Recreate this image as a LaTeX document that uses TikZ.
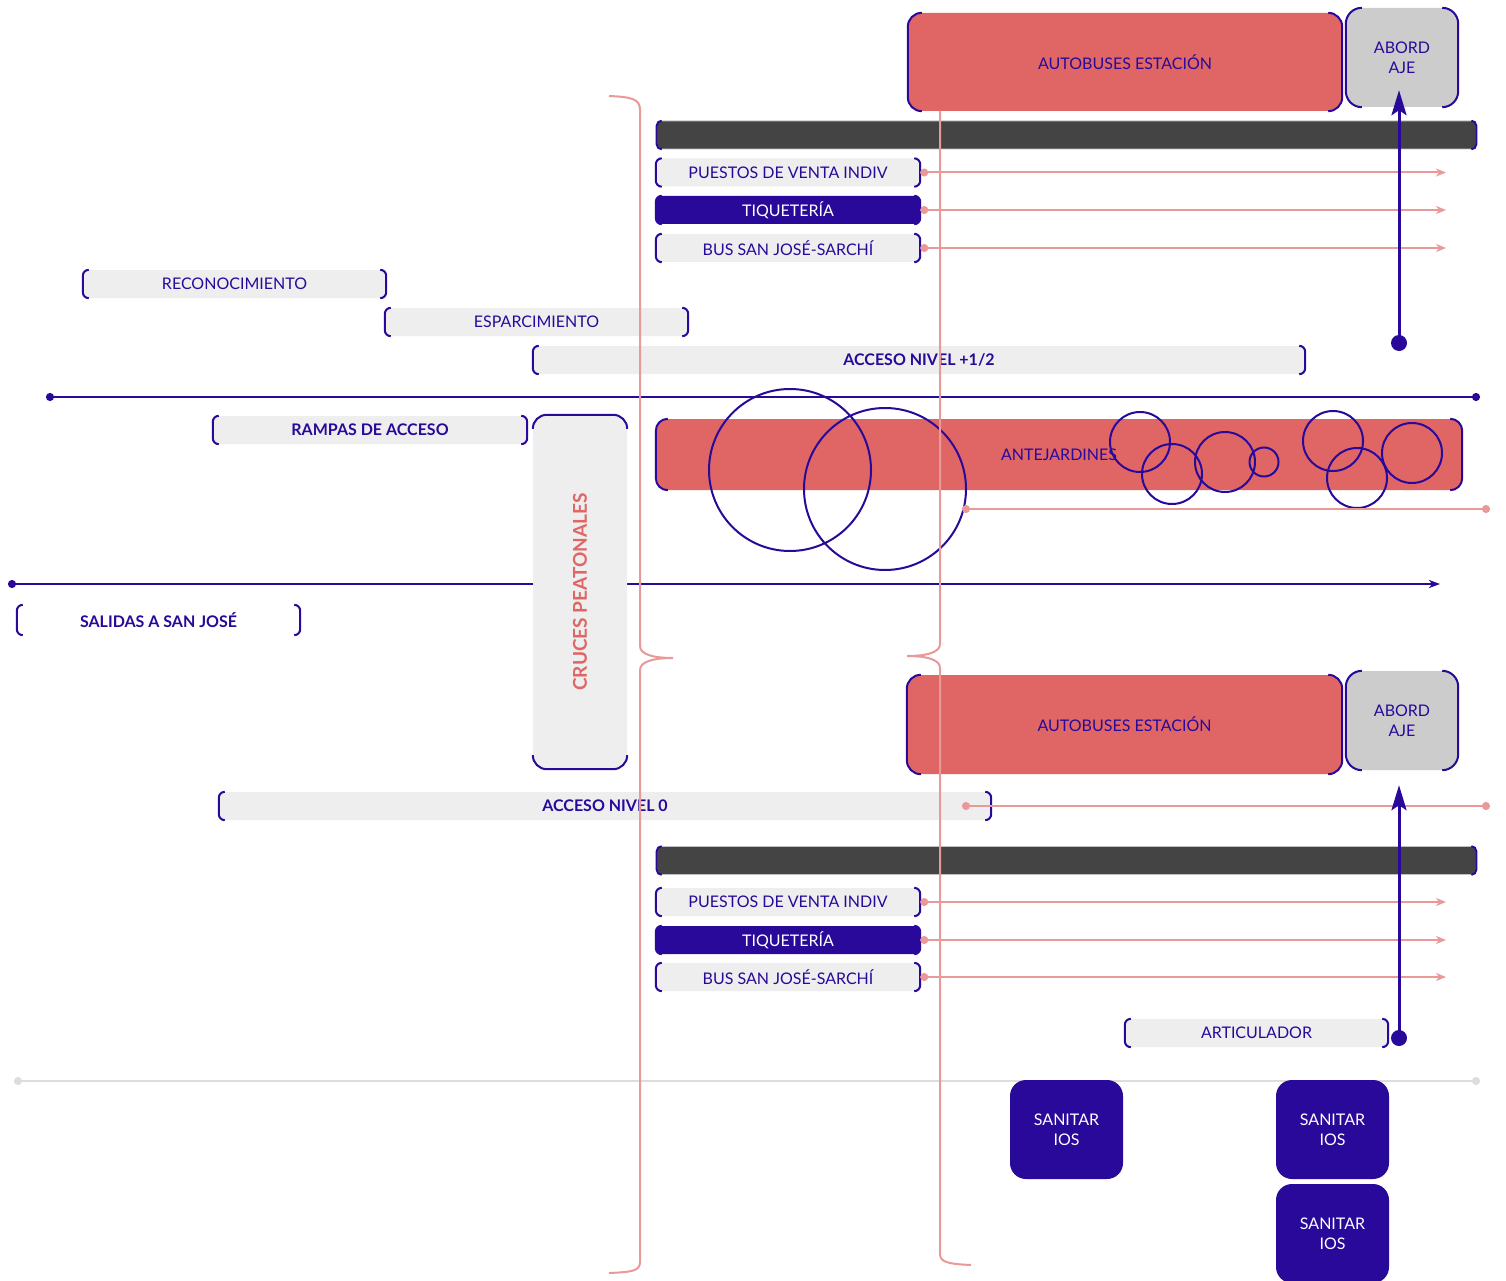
\documentclass[tikz,border=0pt]{standalone}
\usepackage{fontspec}
\usepackage{graphicx}
\setmainfont{Lato}
\usetikzlibrary{arrows.meta}
\definecolor{ink}{HTML}{28099A}
\definecolor{rose}{HTML}{E06666}
\definecolor{pale}{HTML}{EEEEEE}
\definecolor{mid}{HTML}{CCCCCC}
\definecolor{dark}{HTML}{444444}
\definecolor{pinkl}{HTML}{EA9999}
\definecolor{lgline}{HTML}{DDDDDD}
\newcommand\lab{\fontsize{16}{20}\selectfont}
\newcommand\cru{\fontsize{19}{24}\selectfont\bfseries}
\newcommand\brk[2][6]{%
  \draw[bl,rounded corners=#1pt] ([xshift=#1pt]#2.north west)--(#2.north west)--(#2.south west)--([xshift=#1pt]#2.south west);
  \draw[bl,rounded corners=#1pt] ([xshift=-#1pt]#2.north east)--(#2.north east)--(#2.south east)--([xshift=-#1pt]#2.south east);}
\newcommand\brkv[2][14]{%
  \draw[bl,rounded corners=#1pt] ([yshift=-#1pt]#2.north west)--(#2.north west)--(#2.north east)--([yshift=-#1pt]#2.north east);
  \draw[bl,rounded corners=#1pt] ([yshift=#1pt]#2.south west)--(#2.south west)--(#2.south east)--([yshift=#1pt]#2.south east);}

\begin{document}
\begin{tikzpicture}[x=1pt,y=-1pt,
  lb/.style={fill=pale,text=ink,rounded corners=6pt,minimum height=28pt,inner sep=0pt,font=\lab},
  db/.style={lb,fill=ink,text=white},
  rb/.style={fill=rose,text=ink,rounded corners=14pt,inner sep=0pt,font=\lab},
  gb/.style={fill=mid,text=ink,rounded corners=16pt,inner sep=0pt,minimum width=112pt,minimum height=99pt,align=center,font=\lab},
  sb/.style={fill=ink,text=white,rounded corners=16pt,inner sep=0pt,minimum width=113pt,minimum height=99pt,align=center,font=\lab},
  bar/.style={fill=dark,draw=black!25,line width=.6pt,rounded corners=5pt,minimum width=819pt,minimum height=28pt,inner sep=0pt},
  bl/.style={draw=ink,line width=2pt},
  pk/.style={{Circle[length=8pt]}-{Stealth[length=10pt,width=8pt,inset=3pt]},draw=pinkl,line width=2pt},
  pkd/.style={{Circle[length=8pt]}-{Circle[length=8pt]},draw=pinkl,line width=2pt},
  hl/.style={{Circle[length=8pt]}-{Circle[length=8pt]},draw=ink,line width=2pt},
  va/.style={-{Stealth[length=25pt,width=15pt,inset=5pt]},draw=ink,line width=3pt},
  cir/.style={draw=ink,line width=2pt},
  br/.style={draw=pinkl,line width=2pt}]
\fill[white] (0,0) rectangle (1506,1281);
\useasboundingbox (0,0) rectangle (1506,1281);
\coordinate (h1a) at (46,397); \coordinate (h1b) at (1480,397);
\coordinate (h2a) at (8,584); \coordinate (h2b) at (1440,584);
\coordinate (g1) at (14,1081); \coordinate (g2) at (1480,1081);
\draw[hl] (h1a)--(h1b);
\draw[hl,{Circle[length=8pt]}-{Stealth[length=11pt,width=8pt,inset=3pt]}] (h2a)--(h2b);
\draw[pkd,draw=lgline] (g1)--(g2);

\node[rb,minimum width=434pt,minimum height=98pt] (bus1) at (1125,62) {AUTOBUSES ESTACIÓN};
\node[gb] (abo1) at (1402,57.5) {ABORD\\AJE};
\node[bar] (bar1) at (1066.5,135) {};
\node[lb,minimum width=264pt] (pue1) at (788,172.5) {PUESTOS DE VENTA INDIV};
\node[db,minimum width=264pt] (tiq1) at (788,210) {TIQUETERÍA};
\node[lb,minimum width=264pt] (sjs1) at (788,248) {BUS SAN JOSÉ-SARCHÍ};
\node[lb,minimum width=303pt] (reco) at (234.5,284) {RECONOCIMIENTO};
\node[lb,minimum width=303pt] (espa) at (536.5,322) {ESPARCIMIENTO};
\node[lb,minimum width=772pt,font=\lab\bfseries] (acc1) at (919,360) {ACCESO NIVEL +1/2};
\node[lb,minimum width=314pt,font=\lab\bfseries] (rampas) at (370,430) {RAMPAS DE ACCESO};
\node[lb,rounded corners=14pt,minimum width=94pt,minimum height=354pt,text=rose,font=\cru] (cruces) at (580,592) {\rotatebox{90}{CRUCES PEATONALES}};
\node[rb,rounded corners=12pt,minimum width=806pt,minimum height=71pt] (ante) at (1059,454.5) {ANTEJARDINES};
\node[lb,fill=none,minimum width=283pt,minimum height=30pt,font=\lab\bfseries] (sal) at (158.5,620) {SALIDAS A SAN JOSÉ};

\node[rb,minimum width=435pt,minimum height=99pt] (bus2) at (1124.5,724.5) {AUTOBUSES ESTACIÓN};
\node[gb] (abo2) at (1402,720.5) {ABORD\\AJE};
\node[lb,minimum width=772pt,font=\lab\bfseries] (acc0) at (605,806) {ACCESO NIVEL 0};
\node[bar] (bar2) at (1066.5,860.5) {};
\node[lb,minimum width=264pt] (pue2) at (788,902) {PUESTOS DE VENTA INDIV};
\node[db,minimum width=264pt] (tiq2) at (788,940) {TIQUETERÍA};
\node[lb,minimum width=264pt] (sjs2) at (788,977) {BUS SAN JOSÉ-SARCHÍ};
\node[lb,minimum width=263pt] (arti) at (1256.5,1033) {ARTICULADOR};
\node[sb] (san1) at (1066.5,1129.5) {SANITAR\\IOS};
\node[sb] (san2) at (1332.5,1129.5) {SANITAR\\IOS};
\node[sb] (san3) at (1332.5,1233.5) {SANITAR\\IOS};

\foreach \n in {pue1,tiq1,sjs1,reco,espa,acc1,rampas,sal,pue2,tiq2,sjs2,acc0,arti} {\brk{\n}}
\brk[14]{bus1} \brk[14]{bus2} \brk[16]{abo1} \brk[16]{abo2}
\brk[5]{bar1} \brk[5]{bar2} \brk[12]{ante} \brkv{cruces}

\draw[cir] (790,470) circle (81pt) (885,489) circle (81pt);
\draw[cir] (1140,442) circle (30pt) (1172,474) circle (30pt) (1225,462) circle (30pt) (1264,462) circle (14.5pt)
  (1333,441) circle (30pt) (1357,478) circle (30pt) (1412,453) circle (30pt);

\coordinate (rtip) at (1446,0);
\foreach \n in {pue1,tiq1,sjs1,pue2,tiq2,sjs2} {\draw[pk] (\n.east)--(\n.east -| rtip);}
\coordinate (p1) at (962,509); \coordinate (p2) at (1490,509);
\coordinate (p3) at (962,806); \coordinate (p4) at (1490,806);
\draw[pkd] (p1)--(p2); \draw[pkd] (p3)--(p4);

\draw[br] (609,96) .. controls (632,97) and (640,99) .. (640,110) -- (640,646) .. controls (640,655) and (655,658) .. (673,658) .. controls (655,658) and (640,661) .. (640,670) -- (640,1262) .. controls (640,1271) and (632,1272) .. (609,1273);
\draw[br] (940,111) -- (940,644) .. controls (940,653) and (925,656) .. (907,656) .. controls (925,656) and (940,659) .. (940,668) -- (940,1254) .. controls (940,1262) and (948,1264) .. (971,1265);

\coordinate (d1) at (1399,343); \coordinate (d2) at (1399,1038);
\fill[ink] (d1) circle (8pt) (d2) circle (8pt);
\draw[va] (d1)--([yshift=17pt]d1 |- abo1.south);
\draw[va] (d2)--([yshift=-15pt]d2 |- abo2.south);
\end{tikzpicture}
\end{document}
